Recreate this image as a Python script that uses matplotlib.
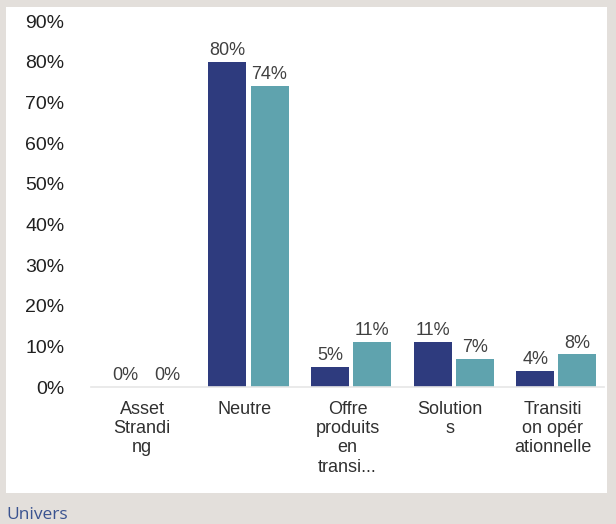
import matplotlib.pyplot as plt
from matplotlib.patches import Rectangle
import numpy as np

categories = ["Asset\nStrandi\nng", "Neutre", "Offre\nproduits\nen\ntransi...",
              "Solution\ns", "Transiti\non opér\nationnelle"]
series_a = [0.00, 0.80, 0.05, 0.11, 0.04]
series_b = [0.00, 0.74, 0.11, 0.07, 0.08]
y_ticks = [0, 0.1, 0.2, 0.3, 0.4, 0.5, 0.6, 0.7, 0.8, 0.9]

dark = "#2e3b7e"
teal = "#5fa3ae"
text_grey = "#404040"

plt.rcParams["font.family"] = ["Liberation Sans", "DejaVu Sans"]

fig = plt.figure(figsize=(6.16, 5.24), dpi=100)
fig.patch.set_facecolor("#e3dfdb")
# white panel
fig.add_artist(Rectangle((6 / 616, 31 / 524), 601 / 616, 486 / 524,
                         transform=fig.transFigure, facecolor="white",
                         edgecolor="none", zorder=0))

ax = fig.add_axes([91 / 616, 137 / 524, 513 / 616, 366 / 524])
ax.set_facecolor("none")

x = np.arange(len(categories))
w = 0.37
bars_a = ax.bar(x - 0.17, series_a, width=w, color=dark)
bars_b = ax.bar(x + 0.24, series_b, width=w, color=teal)

for bars, vals in [(bars_a, series_a), (bars_b, series_b)]:
    for b, v in zip(bars, vals):
        ax.annotate(f"{v * 100:.0f}%", (b.get_x() + b.get_width() / 2, v),
                    xytext=(0, 2), textcoords="offset points",
                    ha="center", va="bottom", fontsize=13, color=text_grey)

ax.set_xlim(-0.5, len(categories) - 0.5)
ax.set_ylim(0, 0.9)
ax.set_yticks(y_ticks)
ax.set_yticklabels([f"{t * 100:.0f}%" for t in y_ticks], fontsize=14, color="#202020")
ax.set_xticks(x)
ax.set_xticklabels(categories, fontsize=13, color="#303030", linespacing=1.17,
                   va="top")
ax.tick_params(axis="y", length=0, pad=19)
ax.tick_params(axis="x", length=0, pad=10)

for s in ["top", "right", "left"]:
    ax.spines[s].set_visible(False)
ax.spines["bottom"].set_color("#e6e6e6")
ax.spines["bottom"].set_linewidth(1.2)

fig.text(6 / 616, 5 / 524, "Univers", fontsize=12.5, color="#3a5390",
         family=["Open Sans", "DejaVu Sans"], ha="left", va="baseline")

fig.savefig("out.png", dpi=100, facecolor=fig.get_facecolor())
